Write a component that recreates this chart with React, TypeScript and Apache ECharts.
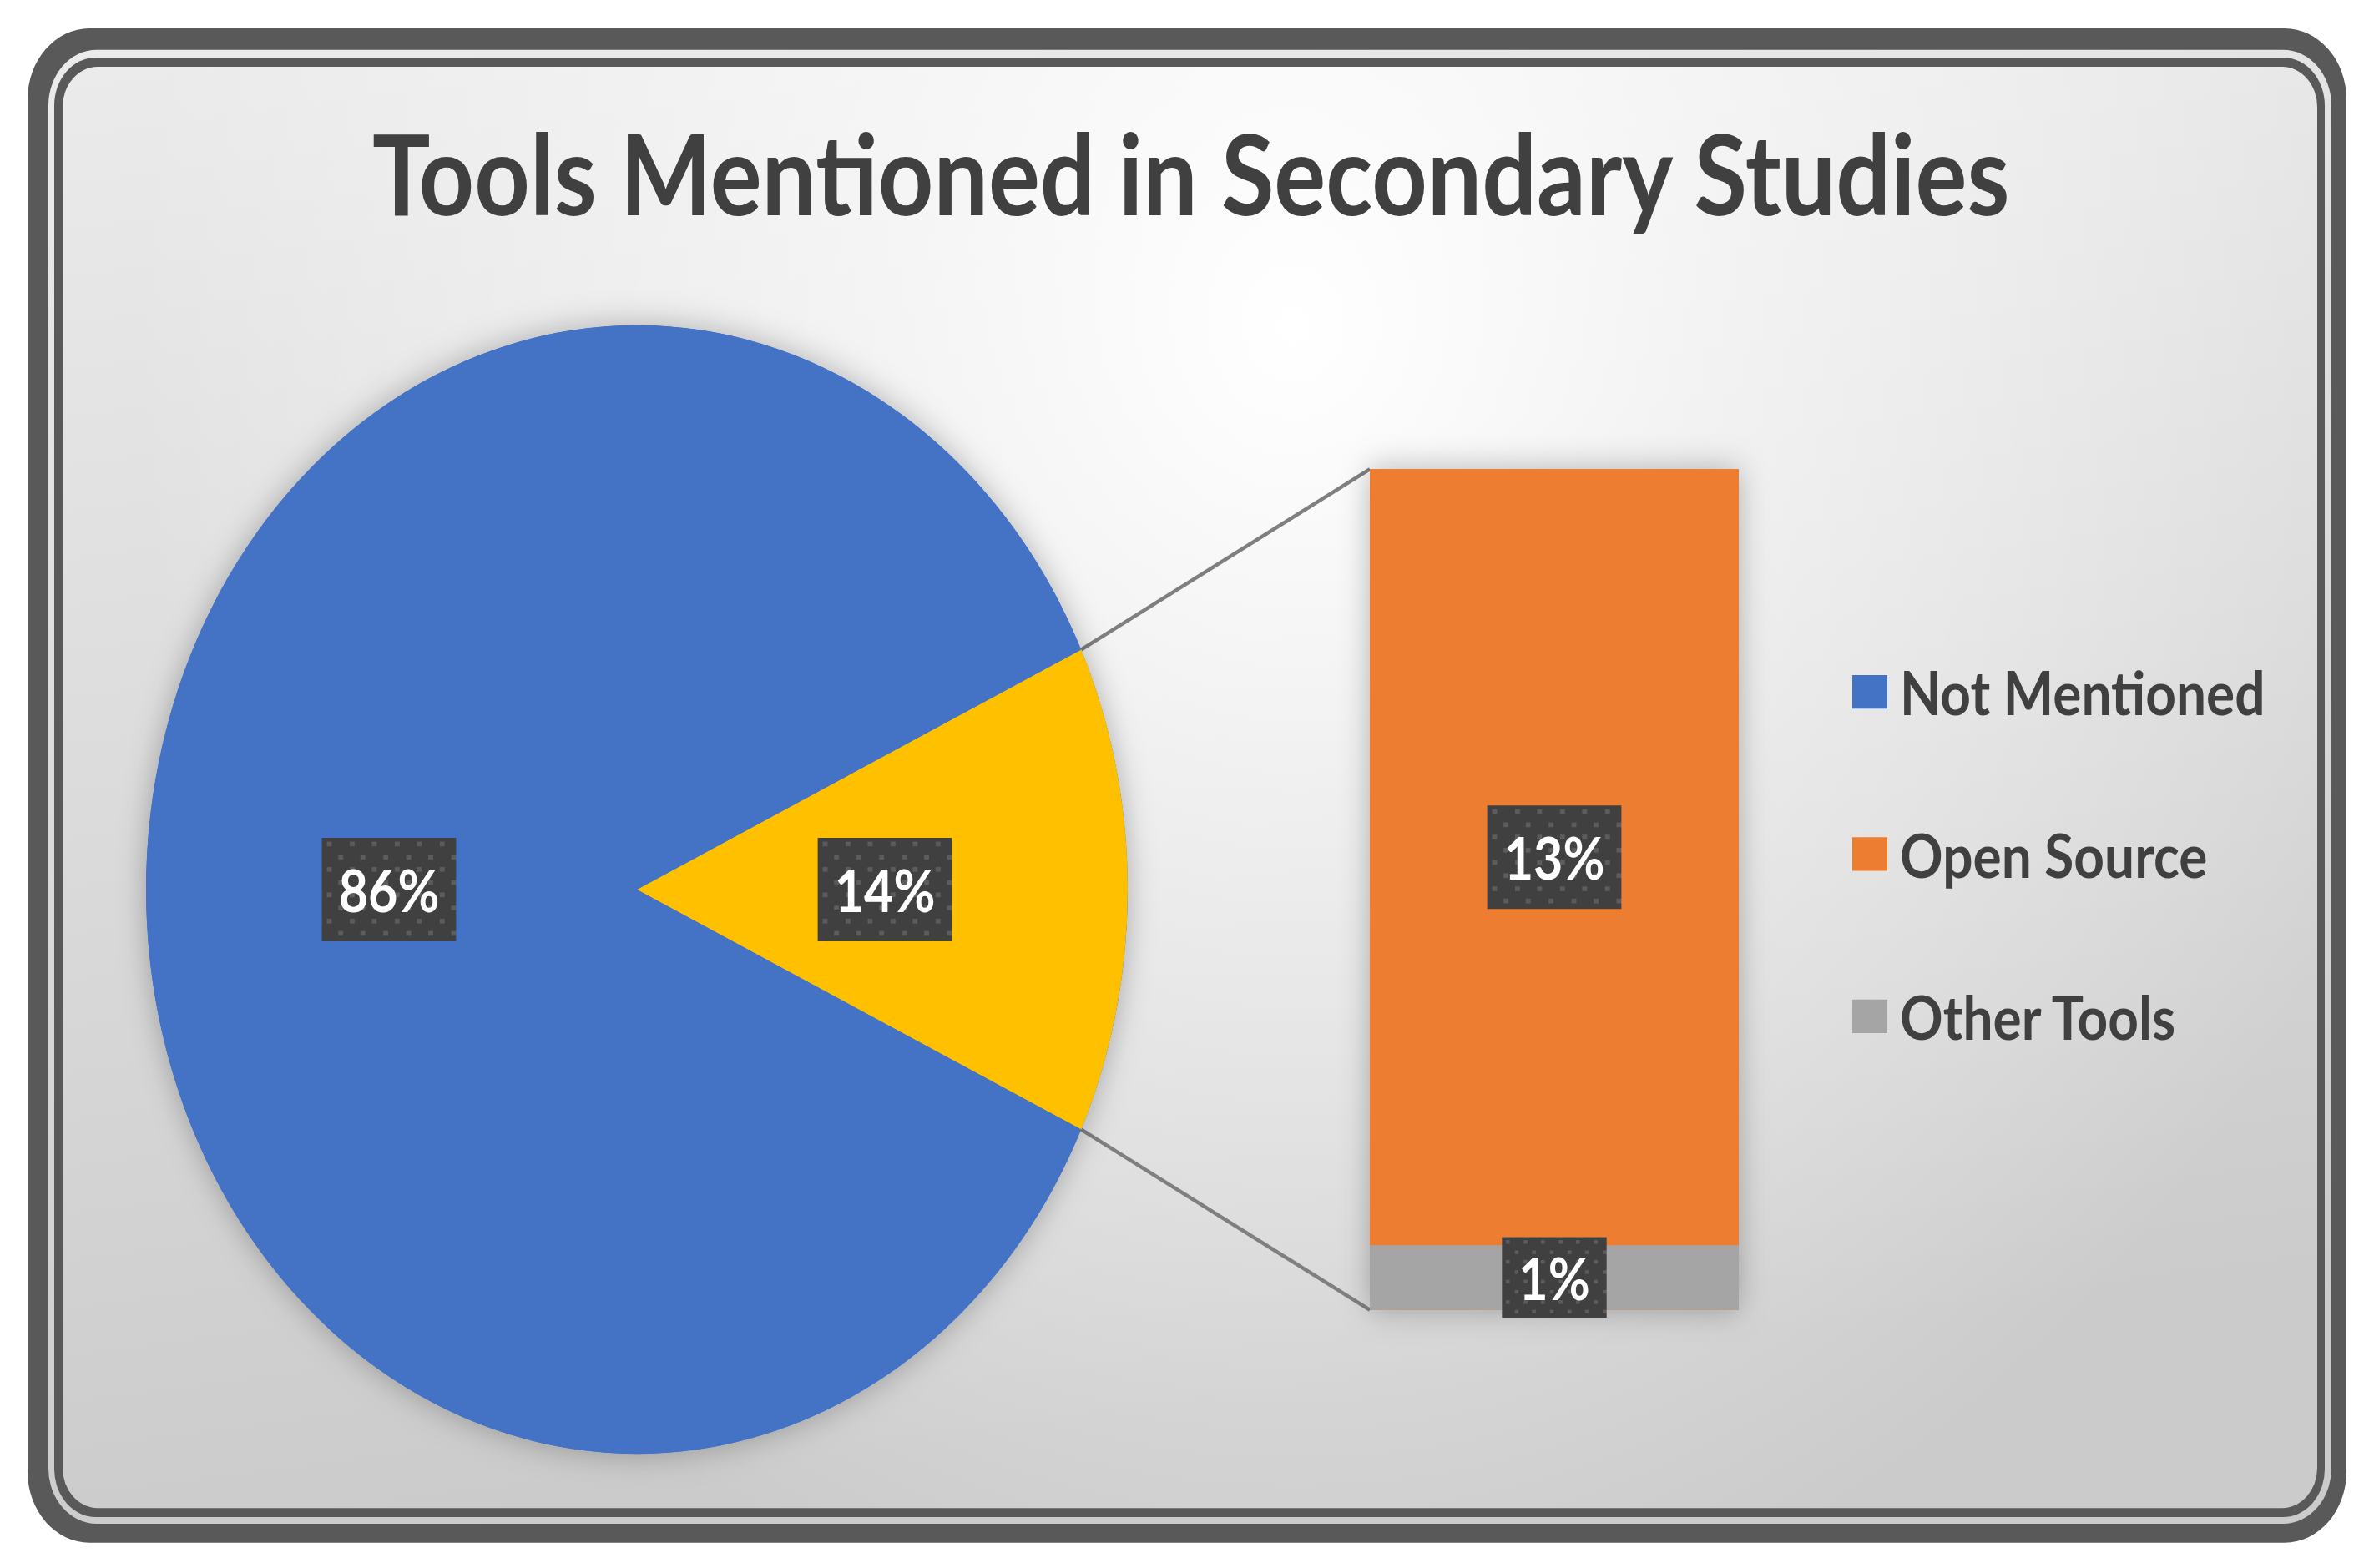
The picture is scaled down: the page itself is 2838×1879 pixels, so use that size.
import React, { useEffect, useRef } from "react";
import * as echarts from "echarts";

// ---------- data ----------
const TITLE = "Tools Mentioned in Secondary Studies";
const legendNames = ["Not Mentioned", "Open Source", "Other Tools"];
const pieNames = ["Tools Mentioned", "Not Mentioned"]; // aggregated slice first
const notMentionedValues = [80];
const barNames = ["Other Tools", "Open Source"]; // stacked bottom -> top
const barValues = [1, 12];
const barCategory = ["Tools"];

// ---------- styling / layout ----------
const W = 2838;
const H = 1634;
const SY = 1879 / H;
const COLORS: Record<string, string> = {
  "Not Mentioned": "#4472C4",
  "Tools Mentioned": "#FFC000",
  "Open Source": "#ED7D31",
  "Other Tools": "#A5A5A5",
};
const PIE_CX = 763;
const PIE_CY = 927;
const PIE_R = 588;
const BAR_LEFT = 1641;
const BAR_RIGHT = 2083;
const BAR_TOP = 489;
const BAR_BOTTOM = 1365;
const FONT = "Lato";
const TEXT_DARK = "#404040";

function makePattern(w: number, h: number): string {
  const c = document.createElement("canvas");
  c.width = w;
  c.height = h;
  const ctx = c.getContext("2d")!;
  ctx.fillStyle = "#404040";
  ctx.fillRect(0, 0, w, h);
  ctx.fillStyle = "rgba(120,120,120,0.5)";
  const dx = 27.6;
  const dy = 13.6;
  for (let r = 0; r * dy < h + dy; r++) {
    const y = 4 + r * dy;
    const off = r % 2 ? dx / 2 : 0;
    for (let x = 6 + off; x < w; x += dx) {
      ctx.fillRect(Math.round(x), Math.round(y), 6, 5);
    }
  }
  return c.toDataURL();
}

export default function App() {
  const ref = useRef<HTMLDivElement>(null);
  useEffect(() => {
    if (!ref.current) return;
    const chart = echarts.init(ref.current, null, { renderer: "svg" });
    const barSum = barValues.reduce((a, b) => a + b, 0);
    const total = barSum + notMentionedValues.reduce((a, b) => a + b, 0);
    const pieValues = [barSum, notMentionedValues[0]];
    const halfAngleDeg = (barSum / total) * 180;
    const halfAngle = (halfAngleDeg * Math.PI) / 180;
    const tipX = PIE_CX + PIE_R * Math.cos(halfAngle);
    const tipYTop = PIE_CY - PIE_R * Math.sin(halfAngle);
    const tipYBot = PIE_CY + PIE_R * Math.sin(halfAngle);

    const pattern = makePattern(164, 110);
    const fmt = (p: any) => Math.round((p.value / total) * 100) + "%";
    const label = {
      show: true,
      position: "inside",
      color: "#ffffff",
      fontFamily: FONT,
      fontWeight: "bold",
      fontSize: 61,
      lineHeight: 74,
      padding: [18, 20],
      backgroundColor: { image: pattern },
      shadowBlur: 16,
      shadowColor: "rgba(0,0,0,0.6)",
      shadowOffsetX: 9,
      shadowOffsetY: 10,
      formatter: fmt,
    };

    const bgLinear = {
      type: "linear",
      x: 0,
      y: 0,
      x2: 0.2,
      y2: 1,
      colorStops: [
        { offset: 0, color: "#ebebeb" },
        { offset: 1, color: "#cbcbcb" },
      ],
    };
    const glow = {
      type: "radial",
      x: 1550,
      y: 340,
      r: 1400,
      global: true,
      colorStops: [
        { offset: 0, color: "rgba(255,255,255,1)" },
        { offset: 0.35, color: "rgba(255,255,255,0.6)" },
        { offset: 1, color: "rgba(255,255,255,0)" },
      ],
    };

    const option: any = {
      animation: false,
      title: {
        text: TITLE,
        left: 446,
        top: 110,
        padding: 0,
        textStyle: {
          fontFamily: FONT,
          fontWeight: "bold",
          fontSize: 116,
          lineHeight: 139,
          color: TEXT_DARK,
        },
      },
      legend: {
        data: legendNames,
        orient: "vertical",
        left: 2219,
        top: 686,
        padding: 0,
        itemWidth: 42,
        itemHeight: 35,
        itemGap: 99,
        icon: "rect",
        itemStyle: { shadowBlur: 0, shadowColor: "transparent", borderWidth: 0 },
        textStyle: {
          fontFamily: FONT,
          fontWeight: "bold",
          fontSize: 64,
          lineHeight: 70,
          color: TEXT_DARK,
          padding: [0, 0, 0, 10],
        },
      },
      grid: {
        left: BAR_LEFT,
        top: BAR_TOP,
        width: BAR_RIGHT - BAR_LEFT,
        height: BAR_BOTTOM - BAR_TOP,
      },
      xAxis: { type: "category", data: barCategory, show: false, boundaryGap: true },
      yAxis: { type: "value", min: 0, max: barSum, show: false },
      graphic: {
        elements: [
          { type: "rect", z: -10, shape: { x: 33, y: 29.6, width: 2778, height: 1578, r: 74 }, style: { fill: "#595959" } },
          { type: "rect", z: -9, shape: { x: 58, y: 52, width: 2735, height: 1536, r: 58 }, style: { fill: bgLinear } },
          { type: "rect", z: -8, shape: { x: 65, y: 60, width: 2720, height: 1521, r: 50 }, style: { fill: "#595959" } },
          { type: "rect", z: -7, shape: { x: 75, y: 69.6, width: 2701, height: 1502, r: 42 }, style: { fill: bgLinear } },
          { type: "rect", z: -6, shape: { x: 75, y: 69.6, width: 2701, height: 1502, r: 42 }, style: { fill: glow } },
          { type: "line", z: 1, shape: { x1: tipX, y1: tipYTop, x2: BAR_LEFT, y2: BAR_TOP }, style: { stroke: "#7F7F7F", lineWidth: 4 } },
          { type: "line", z: 1, shape: { x1: tipX, y1: tipYBot, x2: BAR_LEFT, y2: BAR_BOTTOM }, style: { stroke: "#7F7F7F", lineWidth: 4 } },
        ],
      },
      series: [
        {
          type: "pie",
          name: "pieShadow",
          silent: true,
          z: 1,
          center: [PIE_CX, PIE_CY],
          radius: PIE_R,
          label: { show: false },
          labelLine: { show: false },
          data: [{ name: "pieShadowSlice", value: total }],
          itemStyle: { color: "#4472C4", shadowBlur: 34, shadowColor: "rgba(0,0,0,0.28)" },
        },
        {
          type: "pie",
          name: "Tools",
          z: 2,
          center: [PIE_CX, PIE_CY],
          radius: PIE_R,
          startAngle: halfAngleDeg,
          clockwise: true,
          avoidLabelOverlap: false,
          labelLine: { show: false },
          label,
          data: pieNames.map((n, i) => ({ name: n, value: pieValues[i], itemStyle: { color: COLORS[n] } })),
        },
        {
          type: "bar",
          name: "barShadow",
          silent: true,
          z: 1,
          barWidth: "100%",
          barGap: "-100%",
          data: [barSum],
          itemStyle: { color: "#ED7D31", shadowBlur: 34, shadowColor: "rgba(0,0,0,0.28)" },
          label: { show: false },
        },
        ...barNames.map((n, i) => ({
          type: "bar",
          name: n,
          stack: "tools",
          z: i === 0 ? 3 : 2,
          barWidth: "100%",
          barGap: "-100%",
          data: [barValues[i]],
          itemStyle: { color: COLORS[n] },
          label,
        })),
      ],
    };
    chart.setOption(option);
    return () => chart.dispose();
  }, []);
  return (
    <div
      ref={ref}
      style={{
        position: "fixed",
        left: 0,
        top: 0,
        width: W,
        height: H,
        transform: `scaleY(${SY})`,
        transformOrigin: "0 0",
      }}
    />
  );
}
